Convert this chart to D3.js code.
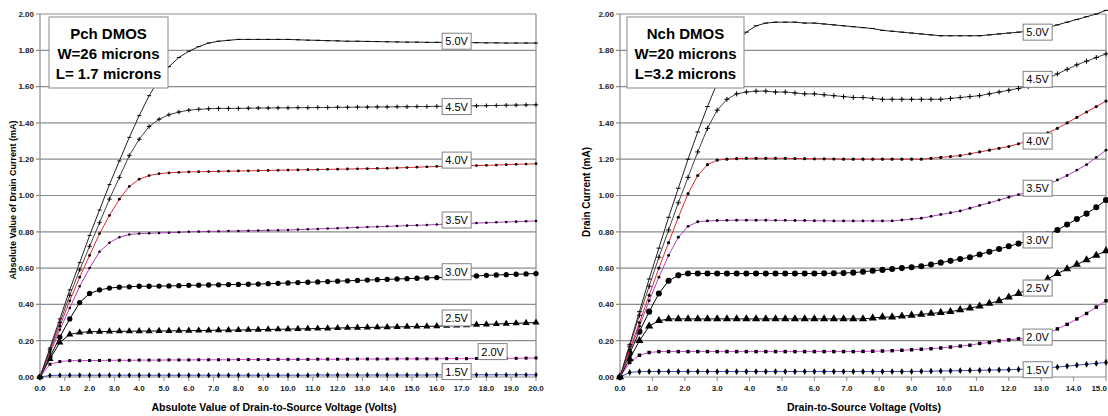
<!DOCTYPE html>
<html>
<head>
<meta charset="utf-8">
<script src="https://cdn.jsdelivr.net/npm/d3@7"></script>
<style>
  body { margin: 0; background: #fff; }
  svg { display: block; font-family: "Liberation Sans", Arial, sans-serif; }
</style>
</head>
<body>
<svg id="chart" width="1108" height="416"></svg>
<script>
// gate steps, one curve each (bottom to top)
const gates = ["1.5V", "2.0V", "2.5V", "3.0V", "3.5V", "4.0V", "4.5V", "5.0V"];

// ---- Pch DMOS, |Vds| 0..20 V in 0.4 V steps, |Id| in mA
const pchVds = d3.range(0, 20.001, 0.4);
const pch15 = [0, 0.008, 0.01, 0.01, 0.01, 0.01, 0.01, 0.01, 0.01, 0.01,
  0.01, 0.01, 0.01, 0.01, 0.01, 0.01, 0.01, 0.01, 0.01, 0.01,
  0.01, 0.01, 0.01, 0.01, 0.01, 0.01, 0.01, 0.01, 0.011, 0.011,
  0.011, 0.011, 0.011, 0.011, 0.011, 0.011, 0.011, 0.011, 0.011, 0.011,
  0.012, 0.012, 0.012, 0.012, 0.012, 0.012, 0.012, 0.012, 0.012, 0.012, 0.012];
const pch20 = [0, 0.07, 0.085, 0.09, 0.09, 0.091, 0.091, 0.092, 0.092, 0.092,
  0.093, 0.093, 0.093, 0.094, 0.094, 0.094, 0.095, 0.095, 0.095, 0.095,
  0.096, 0.096, 0.096, 0.096, 0.097, 0.097, 0.097, 0.097, 0.098, 0.098,
  0.098, 0.098, 0.099, 0.099, 0.099, 0.099, 0.1, 0.1, 0.1, 0.1,
  0.1, 0.101, 0.101, 0.101, 0.102, 0.102, 0.102, 0.103, 0.103, 0.104, 0.105];
const pch25 = [0, 0.1, 0.19, 0.235, 0.245, 0.25, 0.25, 0.251, 0.252, 0.252,
  0.253, 0.253, 0.254, 0.254, 0.255, 0.255, 0.256, 0.257, 0.258, 0.258,
  0.259, 0.26, 0.261, 0.262, 0.263, 0.264, 0.265, 0.266, 0.267, 0.268,
  0.27, 0.271, 0.272, 0.273, 0.274, 0.275, 0.276, 0.277, 0.278, 0.279,
  0.28, 0.282, 0.284, 0.286, 0.288, 0.29, 0.292, 0.294, 0.296, 0.298, 0.3];
const pch30 = [0, 0.11, 0.22, 0.32, 0.41, 0.46, 0.48, 0.49, 0.495, 0.497,
  0.5, 0.5, 0.501, 0.502, 0.503, 0.505, 0.506, 0.507, 0.508, 0.509,
  0.51, 0.511, 0.512, 0.514, 0.516, 0.518, 0.52, 0.522, 0.524, 0.526,
  0.528, 0.53, 0.532, 0.534, 0.536, 0.538, 0.54, 0.542, 0.544, 0.546,
  0.548, 0.55, 0.553, 0.555, 0.557, 0.56, 0.562, 0.564, 0.566, 0.568, 0.57];
const pch35 = [0, 0.13, 0.26, 0.38, 0.5, 0.6, 0.69, 0.74, 0.77, 0.785,
  0.79, 0.792, 0.794, 0.795, 0.797, 0.8, 0.801, 0.802, 0.803, 0.804,
  0.805, 0.806, 0.807, 0.808, 0.809, 0.81, 0.812, 0.814, 0.816, 0.818,
  0.82, 0.822, 0.824, 0.826, 0.828, 0.83, 0.832, 0.834, 0.836, 0.838,
  0.84, 0.842, 0.844, 0.846, 0.848, 0.85, 0.852, 0.854, 0.856, 0.858, 0.86];
const pch40 = [0, 0.14, 0.28, 0.42, 0.55, 0.67, 0.79, 0.89, 0.98, 1.05,
  1.09, 1.11, 1.12, 1.125, 1.128, 1.13, 1.131, 1.132, 1.133, 1.134,
  1.135, 1.136, 1.137, 1.138, 1.139, 1.14, 1.141, 1.142, 1.143, 1.144,
  1.145, 1.146, 1.147, 1.148, 1.149, 1.15, 1.152, 1.154, 1.156, 1.158,
  1.16, 1.161, 1.162, 1.164, 1.165, 1.166, 1.168, 1.17, 1.172, 1.173, 1.175];
const pch45 = [0, 0.15, 0.3, 0.45, 0.59, 0.72, 0.85, 0.98, 1.1, 1.22,
  1.31, 1.38, 1.42, 1.445, 1.46, 1.47, 1.475, 1.478, 1.48, 1.48,
  1.48, 1.481, 1.482, 1.482, 1.483, 1.483, 1.484, 1.484, 1.485, 1.485,
  1.486, 1.486, 1.487, 1.487, 1.488, 1.488, 1.489, 1.489, 1.49, 1.49,
  1.491, 1.492, 1.492, 1.493, 1.494, 1.495, 1.496, 1.497, 1.498, 1.499, 1.5];
const pch50 = [0, 0.16, 0.32, 0.48, 0.63, 0.78, 0.92, 1.06, 1.19, 1.32,
  1.44, 1.55, 1.64, 1.71, 1.76, 1.795, 1.82, 1.84, 1.85, 1.855,
  1.86, 1.86, 1.86, 1.86, 1.86, 1.86, 1.858, 1.856, 1.855, 1.853,
  1.852, 1.85, 1.85, 1.849, 1.848, 1.847, 1.846, 1.845, 1.845, 1.844,
  1.844, 1.843, 1.843, 1.842, 1.842, 1.841, 1.841, 1.84, 1.84, 1.84, 1.84];
const pchLabelV = [16.8, 18.25, 16.8, 16.8, 16.8, 16.8, 16.8, 16.8];
const pchLabelI = [0.03, 0.14, 0.325, 0.58, 0.865, 1.195, 1.49, 1.85];

// ---- Nch DMOS, Vds 0..15 V in 0.3 V steps, Id in mA
const nchVds = d3.range(0, 15.001, 0.3);
const nch15 = [0, 0.025, 0.03, 0.03, 0.03, 0.03, 0.03, 0.03, 0.03, 0.03,
  0.03, 0.03, 0.03, 0.03, 0.03, 0.03, 0.03, 0.03, 0.03, 0.03,
  0.03, 0.03, 0.03, 0.03, 0.03, 0.03, 0.03, 0.03, 0.03, 0.03,
  0.03, 0.031, 0.032, 0.033, 0.034, 0.035, 0.036, 0.037, 0.038, 0.039,
  0.04, 0.042, 0.044, 0.046, 0.05, 0.055, 0.06, 0.065, 0.07, 0.075, 0.08];
const nch20 = [0, 0.08, 0.12, 0.135, 0.14, 0.14, 0.14, 0.14, 0.14, 0.14,
  0.14, 0.14, 0.14, 0.14, 0.14, 0.14, 0.14, 0.14, 0.14, 0.14,
  0.14, 0.14, 0.14, 0.14, 0.14, 0.141, 0.142, 0.143, 0.145, 0.147,
  0.15, 0.153, 0.156, 0.16, 0.165, 0.17, 0.175, 0.185, 0.19, 0.2,
  0.205, 0.21, 0.215, 0.225, 0.24, 0.265, 0.29, 0.32, 0.35, 0.385, 0.42];
const nch25 = [0, 0.1, 0.2, 0.28, 0.31, 0.32, 0.32, 0.32, 0.32, 0.32,
  0.32, 0.32, 0.32, 0.32, 0.32, 0.32, 0.32, 0.32, 0.32, 0.32,
  0.32, 0.32, 0.32, 0.32, 0.32, 0.32, 0.325, 0.33, 0.33, 0.335,
  0.34, 0.345, 0.35, 0.355, 0.36, 0.37, 0.38, 0.39, 0.405, 0.42,
  0.44, 0.46, 0.485, 0.51, 0.54, 0.57, 0.595, 0.62, 0.645, 0.67, 0.695];
const nch30 = [0, 0.13, 0.25, 0.36, 0.46, 0.53, 0.56, 0.57, 0.57, 0.57,
  0.57, 0.57, 0.57, 0.57, 0.57, 0.57, 0.57, 0.57, 0.57, 0.57,
  0.57, 0.571, 0.572, 0.573, 0.575, 0.58, 0.585, 0.59, 0.595, 0.6,
  0.605, 0.61, 0.62, 0.63, 0.64, 0.65, 0.66, 0.675, 0.69, 0.705,
  0.72, 0.735, 0.75, 0.765, 0.785, 0.81, 0.84, 0.87, 0.9, 0.935, 0.975];
const nch35 = [0, 0.14, 0.28, 0.42, 0.55, 0.67, 0.77, 0.83, 0.855, 0.86,
  0.862, 0.863, 0.864, 0.864, 0.864, 0.864, 0.863, 0.863, 0.862, 0.862,
  0.861, 0.861, 0.86, 0.86, 0.86, 0.86, 0.86, 0.86, 0.86, 0.865,
  0.87, 0.875, 0.885, 0.895, 0.905, 0.915, 0.93, 0.945, 0.96, 0.975,
  0.99, 1.005, 1.02, 1.04, 1.06, 1.085, 1.11, 1.14, 1.17, 1.21, 1.25];
const nch40 = [0, 0.15, 0.3, 0.45, 0.6, 0.74, 0.88, 1.01, 1.11, 1.17,
  1.195, 1.2, 1.203, 1.205, 1.205, 1.205, 1.205, 1.205, 1.204, 1.203,
  1.202, 1.202, 1.201, 1.2, 1.2, 1.2, 1.2, 1.2, 1.2, 1.2,
  1.2, 1.2, 1.205, 1.21, 1.215, 1.22, 1.23, 1.24, 1.25, 1.26,
  1.27, 1.285, 1.3, 1.32, 1.345, 1.37, 1.4, 1.43, 1.46, 1.49, 1.52];
const nch45 = [0, 0.17, 0.34, 0.5, 0.66, 0.81, 0.96, 1.1, 1.24, 1.37,
  1.47, 1.53, 1.56, 1.57, 1.575, 1.575, 1.57, 1.57, 1.565, 1.56,
  1.56, 1.555, 1.55, 1.545, 1.54, 1.54, 1.535, 1.53, 1.53, 1.53,
  1.53, 1.53, 1.53, 1.53, 1.535, 1.54, 1.545, 1.55, 1.56, 1.57,
  1.58, 1.59, 1.6, 1.62, 1.645, 1.67, 1.695, 1.72, 1.74, 1.76, 1.78];
const nch50 = [0, 0.18, 0.36, 0.54, 0.71, 0.88, 1.04, 1.2, 1.35, 1.49,
  1.62, 1.74, 1.84, 1.9, 1.935, 1.95, 1.955, 1.955, 1.955, 1.95,
  1.95, 1.945, 1.94, 1.935, 1.93, 1.925, 1.92, 1.91, 1.905, 1.9,
  1.895, 1.89, 1.885, 1.88, 1.88, 1.88, 1.88, 1.88, 1.885, 1.89,
  1.895, 1.9, 1.905, 1.91, 1.925, 1.94, 1.955, 1.97, 1.985, 2.0, 2.02];
const nchLabelV = [12.89, 12.89, 12.89, 12.89, 12.89, 12.89, 12.89, 12.89];
const nchLabelI = [0.04, 0.22, 0.49, 0.755, 1.04, 1.3, 1.64, 1.9];

const yTicks = [0, 0.2, 0.4, 0.6, 0.8, 1.0, 1.2, 1.4, 1.6, 1.8, 2.0];
const pchXTicks = d3.range(0, 21);
const nchXTicks = d3.range(0, 16);

// line colour + marker per gate step
const styles = [
  { line: "#3c48c8", mark: "diamond", size: 10 },
  { line: "#e03ce0", mark: "square", size: 9 },
  { line: "#000", mark: "triangle", size: 22 },
  { line: "#000", mark: "circle", size: 22 },
  { line: "#b03cc0", mark: "circle", size: 5 },
  { line: "#e0282e", mark: "circle", size: 6 },
  { line: "#444", mark: "plus", size: 2.2 },
  { line: "#222", mark: "dash", size: 2 }
];

const svg = d3.select("#chart");
const fmtX = d3.format(".1f");
const fmtY = d3.format(".2f");
const gridColor = "#8c8c8c";
const W = 1108;

function markerPath(st, scale) {
  const s = st.size * scale;
  if (st.mark === "dash") return `M${-s},0H${s}`;
  if (st.mark === "plus") return `M${-s},0H${s}M0,${-s}V${s}`;
  const types = { circle: d3.symbolCircle, triangle: d3.symbolTriangle,
    square: d3.symbolSquare, diamond: d3.symbolDiamond };
  return d3.symbol(types[st.mark], s * scale)();
}

function drawPanel(p) {
  const x = d3.scaleLinear().domain([0, p.xmax]).range([p.left, p.right]);
  const y = d3.scaleLinear().domain([0, 2]).range([377, 14]);
  const g = svg.append("g");

  // horizontal grid
  g.selectAll(".grid").data(yTicks).enter().append("line")
    .attr("x1", p.left - 4).attr("x2", p.right)
    .attr("y1", d => y(d)).attr("y2", d => y(d))
    .attr("stroke", gridColor).attr("stroke-width", 1.2);
  // left axis + right border
  [p.left, p.right].forEach(xx => g.append("line")
    .attr("x1", xx).attr("x2", xx).attr("y1", y(2)).attr("y2", y(0))
    .attr("stroke", gridColor).attr("stroke-width", 1.2));
  // x ticks
  g.selectAll(".xt").data(p.xTicks).enter().append("line")
    .attr("x1", d => x(d)).attr("x2", d => x(d))
    .attr("y1", y(0)).attr("y2", y(0) + 4)
    .attr("stroke", gridColor);

  g.selectAll(".yl").data(yTicks).enter().append("text")
    .attr("x", p.left - 6).attr("y", d => y(d)).attr("dy", "0.35em")
    .attr("text-anchor", "end").attr("font-size", 8).attr("font-weight", "bold")
    .attr("fill", "#222").text(d => fmtY(d));
  // last label at the page edge is pulled in so it is not cut
  g.selectAll(".xl").data(p.xTicks).enter().append("text")
    .attr("x", d => x(d) + 8 > W ? W - 1 : x(d)).attr("y", 391)
    .attr("text-anchor", d => x(d) + 8 > W ? "end" : "middle")
    .attr("font-size", 8).attr("font-weight", "bold")
    .attr("fill", "#222").text(d => fmtX(d));

  // curves
  p.series.forEach((vals, k) => {
    const st = styles[k];
    const pts = vals.map((v, i) => [x(p.vds[i]), y(v)]);
    g.append("path").attr("d", d3.line()(pts))
      .attr("fill", "none").attr("stroke", st.line).attr("stroke-width", 1);
    const d = markerPath(st, p.markScale);
    const stroked = st.mark === "dash" || st.mark === "plus";
    g.append("g").selectAll("path").data(pts).enter().append("path")
      .attr("transform", q => `translate(${q[0]},${q[1]})`)
      .attr("d", d)
      .attr("fill", stroked ? "none" : "#000")
      .attr("stroke", stroked ? "#000" : "none")
      .attr("stroke-width", 1);
  });

  // gate labels
  gates.forEach((lab, k) => {
    const cx = x(p.labelV[k]), cy = y(p.labelI[k]);
    g.append("rect").attr("x", cx - 14.5).attr("y", cy - 8)
      .attr("width", 29).attr("height", 16)
      .attr("fill", "#fff").attr("stroke", "#808080");
    g.append("text").attr("x", cx).attr("y", cy).attr("dy", "0.36em")
      .attr("text-anchor", "middle").attr("font-size", 11).attr("fill", "#000")
      .text(lab);
  });

  // device box
  const bx = p.left + p.boxDx;
  g.append("rect").attr("x", bx).attr("y", 17).attr("width", p.boxW).attr("height", 71)
    .attr("fill", "#fff").attr("stroke", "#8a8a8a");
  p.boxLines.forEach((t, i) => g.append("text")
    .attr("x", bx + p.boxW / 2).attr("y", 38.5 + i * 20)
    .attr("text-anchor", "middle").attr("font-size", 15).attr("font-weight", "bold")
    .text(t));

  // axis titles
  g.append("text").attr("transform", `translate(${p.yTitleX},${p.yTitleY}) rotate(-90)`)
    .attr("text-anchor", "middle").attr("font-size", p.yTitleSize).attr("font-weight", "bold")
    .text(p.yTitle);
  g.append("text").attr("x", p.xTitleX).attr("y", 411)
    .attr("text-anchor", "middle").attr("font-size", 10.5).attr("font-weight", "bold")
    .text(p.xTitle);
}

drawPanel({
  left: 40, right: 536, xmax: 20, xTicks: pchXTicks, vds: pchVds,
  series: [pch15, pch20, pch25, pch30, pch35, pch40, pch45, pch50],
  labelV: pchLabelV, labelI: pchLabelI, markScale: 1,
  boxDx: 9, boxW: 119, boxLines: ["Pch DMOS", "W=26 microns", "L= 1.7 microns"],
  yTitle: "Absolute Value of Drain Current (mA)", yTitleX: 16, yTitleY: 200, yTitleSize: 9,
  xTitle: "Absulote Value of Drain-to-Source Voltage (Volts)", xTitleX: 274
});

drawPanel({
  left: 620, right: 1106, xmax: 15, xTicks: nchXTicks, vds: nchVds,
  series: [nch15, nch20, nch25, nch30, nch35, nch40, nch45, nch50],
  labelV: nchLabelV, labelI: nchLabelI, markScale: 1.15,
  boxDx: 7, boxW: 117, boxLines: ["Nch DMOS", "W=20 microns", "L=3.2 microns"],
  yTitle: "Drain Current (mA)", yTitleX: 590, yTitleY: 192, yTitleSize: 10,
  xTitle: "Drain-to-Source Voltage (Volts)", xTitleX: 864
});
</script>
</body>
</html>
